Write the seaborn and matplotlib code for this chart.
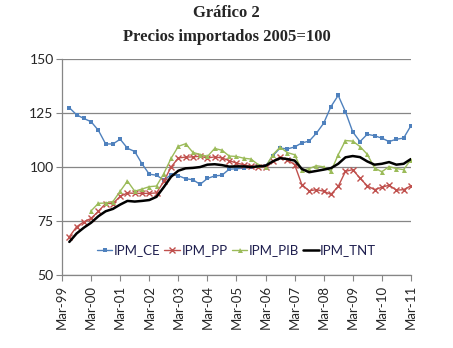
import numpy as np
import pandas as pd
import matplotlib
matplotlib.use("Agg")
import matplotlib.pyplot as plt
import seaborn as sns

# Quarterly data, Jun-99 .. Mar-11 (48 quarters)
quarters = pd.period_range("1999Q2", "2011Q1", freq="Q")
tick_labels = ["Mar-99", "Mar-00", "Mar-01", "Mar-02", "Mar-03", "Mar-04", "Mar-05",
               "Mar-06", "Mar-07", "Mar-08", "Mar-09", "Mar-10", "Mar-11"]

ipm_ce = [127.5, 124.2, 122.5, 121.0, 117.0, 110.7, 110.7, 112.9, 108.7, 107.2,
          101.5, 96.7, 96.2, 94.0, 96.4, 96.0, 94.6, 94.1, 92.0, 94.7,
          95.9, 96.2, 99.0, 99.2, 99.5, 100.0, 100.3, 100.3, 105.2, 108.8,
          108.4, 109.3, 111.2, 112.0, 115.7, 120.3, 128.0, 133.2, 125.6, 116.3,
          111.8, 115.2, 114.5, 113.4, 111.8, 112.9, 113.4, 119.1]
ipm_pp = [67.7, 72.3, 74.6, 76.2, 79.5, 83.1, 83.1, 86.4, 88.0, 87.8,
          87.8, 87.8, 88.0, 93.4, 100.0, 104.2, 104.6, 104.7, 105.0, 104.2,
          104.7, 104.2, 103.0, 101.8, 101.1, 100.3, 100.0, 100.0, 102.6, 104.6,
          103.4, 101.1, 91.8, 89.0, 89.5, 88.8, 87.3, 91.0, 98.0, 98.8,
          94.8, 91.3, 89.5, 90.6, 91.6, 89.3, 89.5, 91.3]
ipm_pib = [np.nan, np.nan, np.nan, 79.7, 83.2, 83.3, 84.0, 88.8, 93.5, 88.8,
           89.8, 90.9, 91.2, 97.0, 104.0, 109.6, 110.8, 106.8, 105.8, 104.9,
           108.6, 107.8, 105.1, 104.9, 104.1, 103.7, 101.1, 100.0, 105.7, 109.2,
           106.7, 105.7, 98.5, 99.3, 100.6, 100.1, 98.0, 105.7, 112.3, 112.0,
           109.5, 105.9, 99.6, 97.8, 100.2, 99.3, 98.8, 103.4]
ipm_tnt = [65.3, 69.2, 71.9, 74.2, 77.2, 79.5, 80.6, 82.6, 84.3, 84.0,
           84.3, 84.7, 86.2, 90.7, 95.5, 98.3, 99.4, 99.6, 100.0, 101.1,
           101.3, 100.9, 100.2, 100.3, 100.3, 100.0, 100.3, 100.6, 102.6, 104.1,
           103.7, 103.0, 99.1, 97.6, 98.2, 98.8, 99.5, 101.5, 104.5, 105.1,
           104.6, 102.6, 101.1, 101.5, 102.3, 101.1, 101.5, 103.7]

x = np.arange(len(quarters))
df = pd.DataFrame({"x": x, "IPM_CE": ipm_ce, "IPM_PP": ipm_pp,
                   "IPM_PIB": ipm_pib, "IPM_TNT": ipm_tnt})

sns.set_style("white")
plt.rcParams["font.family"] = ["Lato", "DejaVu Sans"]

fig = plt.figure(figsize=(4.53, 3.48), dpi=100)
ax = fig.add_axes([0.137, 0.210, 0.770, 0.620])

styles = {
    "IPM_CE": dict(color="#4F81BD", marker="s", markersize=3.2, markeredgewidth=0),
    "IPM_PP": dict(color="#C0504D", marker="x", markersize=3.8, markeredgewidth=1.0),
    "IPM_PIB": dict(color="#9BBB59", marker="^", markersize=3.6, markeredgewidth=0),
    "IPM_TNT": dict(color="black", marker=None),
}
for name in ["IPM_CE", "IPM_PP", "IPM_PIB", "IPM_TNT"]:
    st = styles[name]
    lw = 1.8 if name == "IPM_TNT" else 1.0
    sns.lineplot(data=df, x="x", y=name, ax=ax, label=name, linewidth=lw,
                 color=st["color"], marker=st["marker"],
                 markersize=st.get("markersize", 0),
                 markeredgewidth=st.get("markeredgewidth", 0),
                 markeredgecolor=st["color"])

ax.set_xlim(-1, 47)
ax.set_ylim(50, 150)
ax.set_yticks([50, 75, 100, 125, 150])
ax.set_xticks(np.arange(-1, 48, 4))
ax.set_xticklabels(tick_labels, rotation=90, fontsize=9.5)
ax.tick_params(axis="y", labelsize=10, length=4, color="#868686", direction="out", left=True, pad=2)
ax.tick_params(axis="x", length=4, color="#868686", direction="out", bottom=True, pad=3)
ax.set_xlabel("")
ax.set_ylabel("")
ax.yaxis.grid(True, color="#868686", linewidth=0.9)
ax.set_axisbelow(True)
for s in ["top", "right"]:
    ax.spines[s].set_visible(False)
for s in ["left", "bottom"]:
    ax.spines[s].set_color("#868686")
    ax.spines[s].set_linewidth(0.9)

leg = ax.legend(loc="lower center", bbox_to_anchor=(0.5, 0.05), ncol=4, frameon=False,
                fontsize=9.5, handlelength=1.2, handletextpad=0.1, columnspacing=0.3,
                borderpad=0.1)
for t in leg.get_texts():
    t.set_color("#1F1F4F")

fig.text(0.5, 0.962, "Gráfico 2", ha="center", va="center",
         family="Liberation Serif", fontweight="bold", fontsize=12)
fig.text(0.5, 0.893, "Precios importados 2005=100", ha="center", va="center",
         family="Liberation Serif", fontweight="bold", fontsize=12)

fig.savefig("out.png", dpi=100)
